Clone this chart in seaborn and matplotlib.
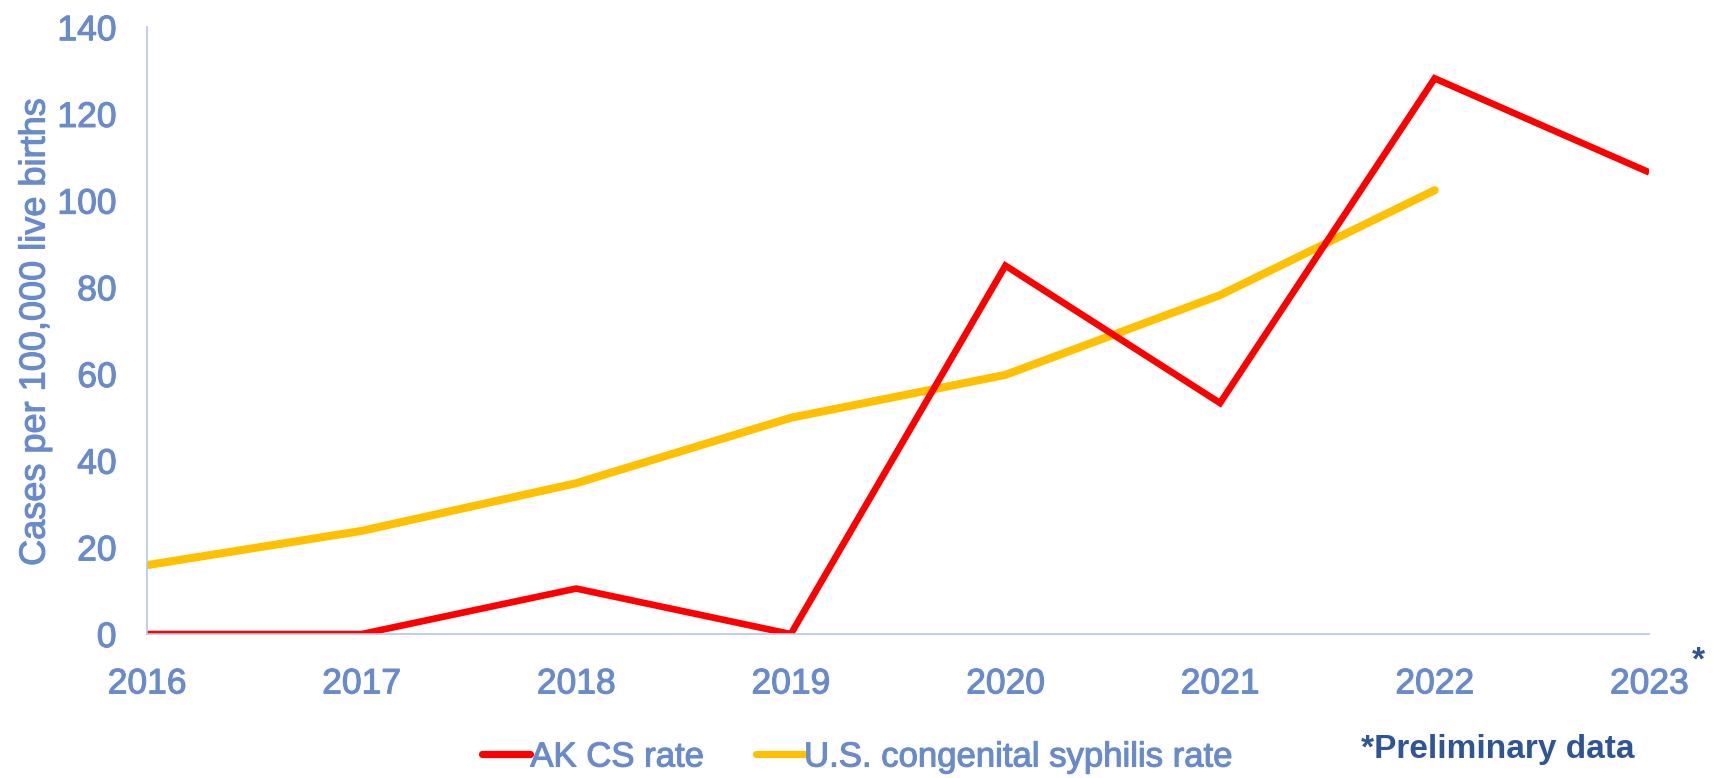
import matplotlib
matplotlib.use("Agg")
import matplotlib.pyplot as plt
import matplotlib.patheffects as pe
import seaborn as sns
import pandas as pd
from matplotlib.lines import Line2D

years = [2016, 2017, 2018, 2019, 2020, 2021, 2022, 2023]
ak_rate = [0, 0, 10.5, 0, 85.0, 53.3, 128.2, 106.5]
us_years = [2016, 2017, 2018, 2019, 2020, 2021, 2022]
us_rate = [15.9, 23.8, 34.8, 49.9, 59.8, 78.2, 102.4]
series_names = ["AK CS rate", "U.S. congenital syphilis rate"]
colors = ["#FF0000", "#FFC000"]
y_ticks = [0, 20, 40, 60, 80, 100, 120, 140]

df = pd.concat([
    pd.DataFrame({"year": years, "rate": ak_rate, "series": series_names[0]}),
    pd.DataFrame({"year": us_years, "rate": us_rate, "series": series_names[1]}),
])

sns.set_theme(style="white")
plt.rcParams["font.family"] = ["Liberation Sans", "DejaVu Sans"]

tick_color = "#6A8BCB"
axis_color = "#B4C7E7"
dark_blue = "#2F5597"
thicken = [pe.withStroke(linewidth=0.8, foreground=tick_color)]

fig = plt.figure(figsize=(17.13, 7.78), dpi=100)
ax = fig.add_axes([0.0858, 0.185, 0.877, 0.780])

sns.lineplot(data=df[df.series == series_names[1]], x="year", y="rate",
             color=colors[1], linewidth=5.8, ax=ax, legend=False,
             solid_capstyle="round", solid_joinstyle="round")
sns.lineplot(data=df[df.series == series_names[0]], x="year", y="rate",
             color=colors[0], linewidth=4.8, ax=ax, legend=False,
             solid_capstyle="butt", solid_joinstyle="miter")

ax.set_xlim(2016, 2023)
ax.set_ylim(0, 140)
ax.set_xticks(years)
ax.set_xticklabels([str(y) for y in years])
ax.set_yticks(y_ticks)
ax.tick_params(axis="x", length=0, pad=24, labelsize=25.5, labelcolor=tick_color)
ax.tick_params(axis="y", length=0, pad=22, labelsize=25.5, labelcolor=tick_color)
for lab in ax.get_xticklabels() + ax.get_yticklabels():
    lab.set_path_effects(thicken)
for s in ["top", "right"]:
    ax.spines[s].set_visible(False)
for s in ["left", "bottom"]:
    ax.spines[s].set_color(axis_color)
    ax.spines[s].set_linewidth(1.2)
ax.set_xlabel("")
ax.set_ylabel("Cases per 100,000 live births", fontsize=26, color=tick_color)
ax.yaxis.label.set_va("center")
ax.yaxis.label.set_path_effects(thicken)
ax.yaxis.set_label_coords(-0.0745, 0.4967)
ax.grid(False)

fig.text(0.9912, 0.150, "*", fontsize=24, color=dark_blue, weight="bold",
         ha="center", va="center")

handles = [Line2D([0], [0], color=c, lw=5.2, solid_capstyle="round") for c in colors]
leg = fig.legend(handles, series_names, loc="center", bbox_to_anchor=(0.5006, 0.027),
                 ncol=2, frameon=False, handlelength=1.38, handletextpad=0.0,
                 columnspacing=1.5, prop=dict(size=25))
for t in leg.get_texts():
    t.set_color(tick_color)
    t.set_path_effects(thicken)

fig.text(0.8742, 0.036, "*Preliminary data", fontsize=24, color=dark_blue,
         weight="bold", ha="center", va="center")

fig.savefig("out.png", dpi=100)
